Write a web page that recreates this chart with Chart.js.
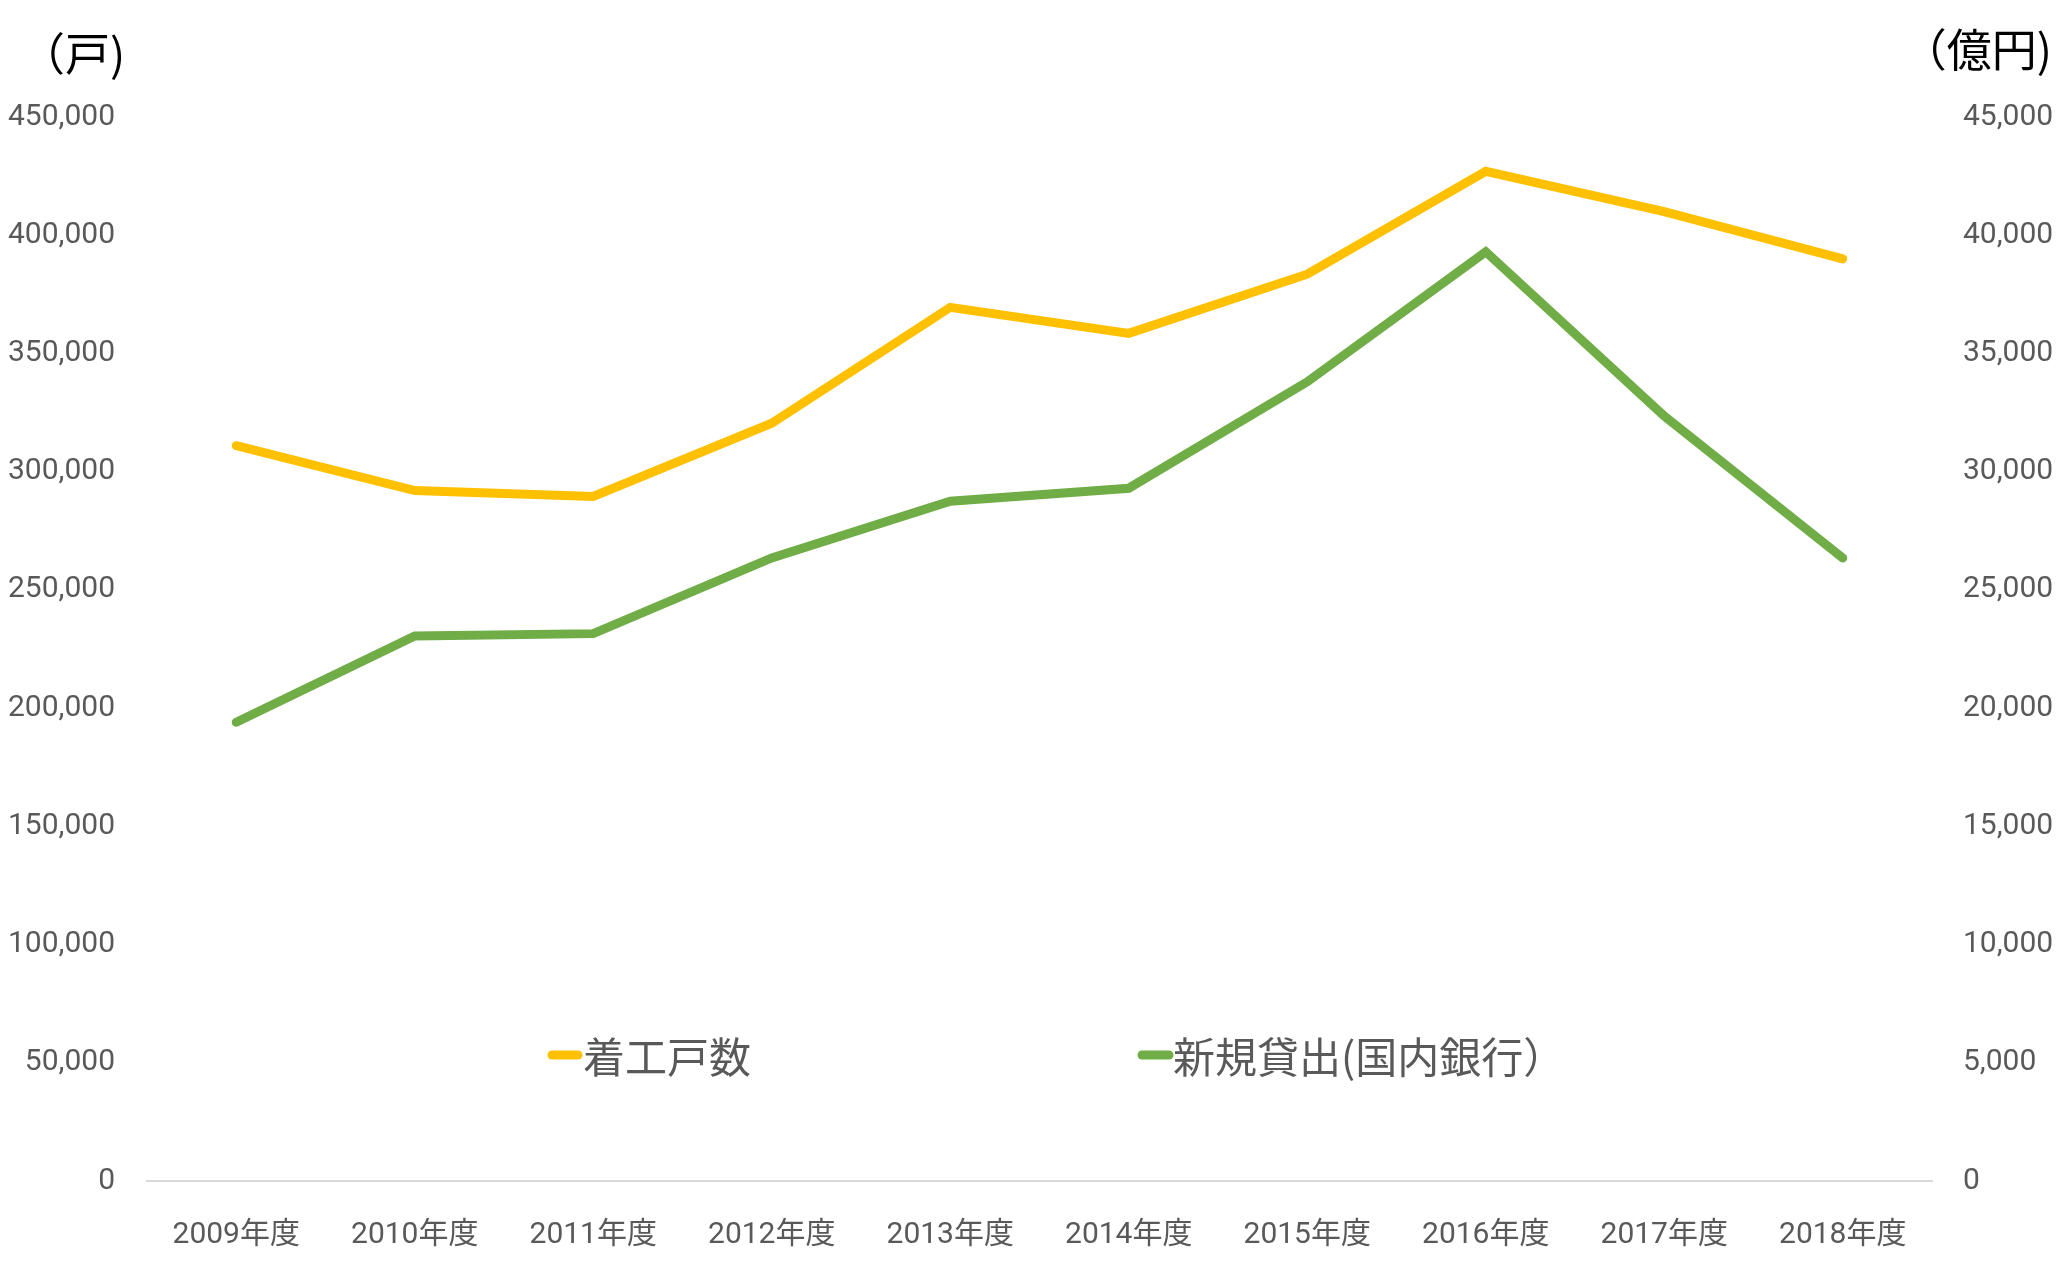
<!DOCTYPE html>
<html><head><meta charset="utf-8">
<script src="https://cdn.jsdelivr.net/npm/chart.js@4/dist/chart.umd.min.js"></script>
<style>html,body{margin:0;padding:0;background:#fff;}canvas{display:block;}</style>
</head><body>
<canvas id="c" width="2060" height="1281"></canvas>
<script>
const categories = ['2009年度','2010年度','2011年度','2012年度','2013年度','2014年度','2015年度','2016年度','2017年度','2018年度'];
const housingStarts = [311000, 292000, 289500, 320500, 369500, 358500, 383500, 427000, 410000, 390000];
const newLoans = [19400, 23050, 23150, 26350, 28750, 29300, 33800, 39300, 32350, 26350];
const seriesNames = ['着工戸数', '新規貸出(国内銀行）'];
const unitLeft = '（戸)';
const unitRight = '（億円)';
const leftMax = 450000, leftStep = 50000;
const rightMax = 45000, rightStep = 5000;

const NUM_FONT = "Roboto, 'Noto Sans CJK JP', sans-serif";
const CJK_FONT = "'Noto Sans CJK JP', sans-serif";
const YELLOW = '#FFC000', GREEN = '#70AD47', GREY = '#595959';

const overlay = {
  id: 'overlay',
  afterDraw(chart) {
    const ctx = chart.ctx;
    ctx.save();
    ctx.fillStyle = '#000';
    ctx.font = "45px " + CJK_FONT;
    ctx.textBaseline = 'middle';
    ctx.textAlign = 'left';
    ctx.fillText(unitLeft, 20, 54);
    ctx.textAlign = 'right';
    ctx.fillText(unitRight, 2052, 50);
    // legend
    const items = [
      {text: seriesNames[0], color: YELLOW, x0: 552, x1: 578, tx: 583},
      {text: seriesNames[1], color: GREEN, x0: 1142, x1: 1169, tx: 1173}
    ];
    const ly = 1055;
    items.forEach(it => {
      ctx.strokeStyle = it.color;
      ctx.lineWidth = 9;
      ctx.lineCap = 'round';
      ctx.beginPath(); ctx.moveTo(it.x0, ly); ctx.lineTo(it.x1, ly); ctx.stroke();
      ctx.fillStyle = GREY;
      ctx.font = "42px " + CJK_FONT;
      ctx.textAlign = 'left';
      ctx.textBaseline = 'middle';
      ctx.fillText(it.text, it.tx, ly + 2);
    });
    ctx.restore();
  }
};

new Chart(document.getElementById('c'), {
  type: 'line',
  data: {
    labels: categories,
    datasets: [
      {label: seriesNames[0], data: housingStarts, yAxisID: 'y', borderColor: YELLOW, backgroundColor: YELLOW,
       borderWidth: 9, pointRadius: 0, tension: 0, borderCapStyle: 'round', borderJoinStyle: 'miter'},
      {label: seriesNames[1], data: newLoans, yAxisID: 'y1', borderColor: GREEN, backgroundColor: GREEN,
       borderWidth: 9, pointRadius: 0, tension: 0, borderCapStyle: 'round', borderJoinStyle: 'miter'}
    ]
  },
  options: {
    responsive: false,
    animation: false,
    devicePixelRatio: 1,
    layout: {padding: {top: 117, left: 0, right: 0, bottom: 0}},
    plugins: {legend: {display: false}, tooltip: {enabled: false}},
    scales: {
      x: {
        offset: true,
        grid: {display: false, drawTicks: false},
        border: {display: true, color: '#D9D9D9', width: 2},
        ticks: {color: GREY, font: {family: NUM_FONT, size: 30}, padding: 36, maxRotation: 0, autoSkip: false},
        afterFit(s) { s.height = 100; }
      },
      y: {
        position: 'left', min: 0, max: leftMax,
        grid: {display: false, drawTicks: false},
        border: {display: false},
        ticks: {stepSize: leftStep, color: GREY, font: {family: NUM_FONT, size: 30}, padding: 32,
          callback: v => v.toLocaleString('en-US')},
        afterFit(s) { s.width = 147; }
      },
      y1: {
        position: 'right', min: 0, max: rightMax,
        grid: {display: false, drawTicks: false},
        border: {display: false},
        ticks: {stepSize: rightStep, color: GREY, font: {family: NUM_FONT, size: 30}, padding: 31,
          callback: v => v.toLocaleString('en-US')},
        afterFit(s) { s.width = 128; }
      }
    }
  },
  plugins: [overlay]
});
</script>
</body></html>
